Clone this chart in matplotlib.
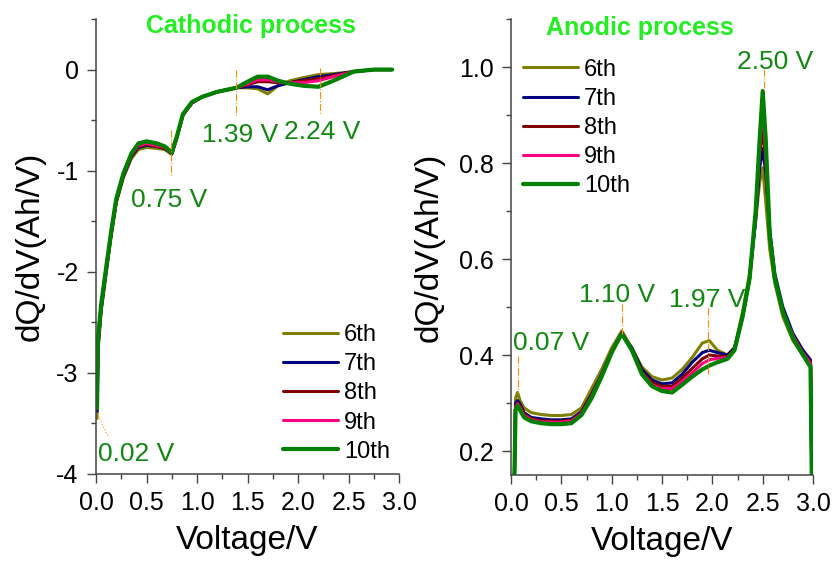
import numpy as np
import matplotlib
matplotlib.use("Agg")
import matplotlib.pyplot as plt
from matplotlib.ticker import MultipleLocator, FormatStrFormatter

plt.rcParams['font.family'] = ['Liberation Sans', 'DejaVu Sans']
plt.rcParams['axes.unicode_minus'] = False

labels = ['6th', '7th', '8th', '9th', '10th']
colors = ['#808000', '#000080', '#800000', '#ff0080', '#008000']
widths = [2.2, 2.2, 2.2, 2.2, 3.0]

# cathodic process
v_cat = [0.01, 0.02, 0.05, 0.1, 0.15, 0.2, 0.27, 0.35, 0.42, 0.5, 0.6, 0.68, 0.75, 0.8, 0.86,
         0.95, 1.05, 1.2, 1.39, 1.5, 1.6, 1.7, 1.8, 1.92, 2.05, 2.2, 2.35, 2.55, 2.75, 2.93]
cat_6 = [-3.45, -2.78, -2.40, -2.02, -1.65, -1.32, -1.07, -0.88, -0.79, -0.77, -0.78, -0.79, -0.84, -0.68, -0.45,
         -0.33, -0.27, -0.22, -0.18, -0.18, -0.19, -0.24, -0.16, -0.11, -0.08, -0.05, -0.04, -0.02, 0.0, 0.0]
cat_7 = [-3.38, -2.75, -2.38, -2.00, -1.63, -1.31, -1.06, -0.86, -0.77, -0.75, -0.76, -0.78, -0.83, -0.67, -0.45,
         -0.33, -0.27, -0.22, -0.18, -0.17, -0.17, -0.20, -0.16, -0.13, -0.10, -0.07, -0.05, -0.02, 0.0, 0.0]
cat_8 = [-3.35, -2.72, -2.36, -1.98, -1.62, -1.30, -1.05, -0.85, -0.76, -0.74, -0.76, -0.78, -0.83, -0.67, -0.45,
         -0.33, -0.27, -0.22, -0.18, -0.15, -0.12, -0.12, -0.13, -0.13, -0.11, -0.09, -0.06, -0.02, 0.0, 0.0]
cat_9 = [-3.30, -2.70, -2.35, -1.97, -1.61, -1.29, -1.04, -0.84, -0.75, -0.73, -0.75, -0.77, -0.82, -0.67, -0.45,
         -0.33, -0.27, -0.22, -0.18, -0.14, -0.10, -0.10, -0.12, -0.13, -0.13, -0.11, -0.07, -0.02, 0.0, 0.0]
cat_10 = [-3.35, -2.65, -2.33, -1.96, -1.60, -1.28, -1.03, -0.83, -0.73, -0.71, -0.73, -0.76, -0.82, -0.66, -0.44,
          -0.32, -0.27, -0.22, -0.18, -0.12, -0.07, -0.07, -0.11, -0.14, -0.16, -0.17, -0.11, -0.02, 0.0, 0.0]

# anodic process
v_an = [0.03, 0.045, 0.065, 0.09, 0.13, 0.2, 0.3, 0.4, 0.5, 0.6, 0.7, 0.8, 0.9, 1.0, 1.1, 1.2, 1.3, 1.4,
        1.5, 1.6, 1.7, 1.8, 1.9, 1.97, 2.05, 2.15, 2.22, 2.3, 2.37, 2.43, 2.47, 2.5, 2.53, 2.57, 2.62,
        2.7, 2.8, 2.9, 2.975, 2.99]
an_6 = [0.10, 0.31, 0.322, 0.305, 0.29, 0.28, 0.276, 0.274, 0.274, 0.276, 0.29, 0.33, 0.37, 0.415, 0.45, 0.415, 0.375, 0.355,
        0.348, 0.352, 0.37, 0.395, 0.425, 0.43, 0.41, 0.40, 0.415, 0.49, 0.57, 0.68, 0.76, 0.79, 0.72, 0.62, 0.55,
        0.48, 0.43, 0.40, 0.38, 0.10]
an_7 = [0.10, 0.30, 0.305, 0.298, 0.28, 0.27, 0.267, 0.265, 0.265, 0.267, 0.282, 0.318, 0.36, 0.408, 0.443, 0.415, 0.37, 0.348,
        0.34, 0.342, 0.36, 0.385, 0.405, 0.41, 0.405, 0.40, 0.415, 0.48, 0.56, 0.68, 0.79, 0.83, 0.78, 0.66, 0.57,
        0.50, 0.445, 0.41, 0.39, 0.10]
an_8 = [0.10, 0.295, 0.30, 0.293, 0.277, 0.267, 0.263, 0.262, 0.262, 0.264, 0.28, 0.315, 0.358, 0.407, 0.445, 0.412, 0.365, 0.343,
        0.335, 0.335, 0.352, 0.372, 0.392, 0.40, 0.398, 0.397, 0.412, 0.48, 0.56, 0.69, 0.82, 0.87, 0.80, 0.65, 0.56,
        0.49, 0.44, 0.405, 0.385, 0.10]
an_9 = [0.10, 0.29, 0.298, 0.29, 0.274, 0.265, 0.261, 0.26, 0.26, 0.262, 0.278, 0.313, 0.357, 0.408, 0.448, 0.41, 0.362, 0.338,
        0.33, 0.33, 0.345, 0.363, 0.382, 0.39, 0.393, 0.395, 0.41, 0.48, 0.56, 0.69, 0.84, 0.91, 0.82, 0.65, 0.56,
        0.49, 0.44, 0.403, 0.382, 0.10]
an_10 = [0.10, 0.285, 0.295, 0.285, 0.27, 0.262, 0.258, 0.256, 0.256, 0.258, 0.275, 0.31, 0.355, 0.405, 0.445, 0.41, 0.36, 0.335,
         0.325, 0.322, 0.338, 0.355, 0.37, 0.378, 0.385, 0.392, 0.41, 0.48, 0.56, 0.70, 0.85, 0.95, 0.85, 0.65, 0.56,
         0.49, 0.435, 0.40, 0.375, 0.10]

cat_series = [cat_6, cat_7, cat_8, cat_9, cat_10]
an_series = [an_6, an_7, an_8, an_9, an_10]

# peak marks: (text, line x, line y, text x, text y)
cat_marks = [('0.75 V', [0.74, 0.74], [-0.60, -1.06], 0.72, -1.36),
             ('1.39 V', [1.39, 1.39], [0.0, -0.45], 1.43, -0.72),
             ('2.24 V', [2.22, 2.22], [0.02, -0.44], 2.24, -0.69)]
an_marks = [('0.07 V', [0.07, 0.07], [0.397, 0.32], 0.40, 0.41),
            ('1.10 V', [1.10, 1.10], [0.506, 0.444], 1.05, 0.51),
            ('1.97 V', [1.96, 1.96], [0.499, 0.357], 1.95, 0.50),
            ('2.50 V', [2.51, 2.51], [0.996, 0.95], 2.62, 0.996)]

txt_green = '#118811'
mark_orange = '#ff8c00'

fig = plt.figure(figsize=(8.35, 5.68), dpi=100)
ax1 = fig.add_axes([0.115, 0.1655, 0.363, 0.801])
ax2 = fig.add_axes([0.612, 0.1637, 0.3617, 0.8028])

for ax in (ax1, ax2):
    for s in ('top', 'right'):
        ax.spines[s].set_visible(False)
    for s in ('left', 'bottom'):
        ax.spines[s].set_color('#444444')
        ax.spines[s].set_linewidth(1.1)
    ax.tick_params(which='major', length=6.5, width=1.0, color='#444444', labelsize=18, pad=6)
    ax.tick_params(which='minor', length=3.6, width=1.0, color='#444444')
    ax.set_xlim(0, 3.0)
    ax.xaxis.set_major_locator(MultipleLocator(0.5))
    ax.xaxis.set_minor_locator(MultipleLocator(0.25))
    ax.xaxis.set_major_formatter(FormatStrFormatter('%.1f'))
    ax.set_xlabel('Voltage/V', fontsize=24)
    ax.set_ylabel('dQ/dV(Ah/V)', fontsize=24)

for y, lab, c, w in zip(cat_series, labels, colors, widths):
    ax1.plot(v_cat, y, color=c, lw=w, label=lab, solid_capstyle='round')
for y, lab, c, w in zip(an_series, labels, colors, widths):
    ax2.plot(v_an, y, color=c, lw=w, label=lab, solid_capstyle='round')

ax1.set_ylim(-4, 0.5)
ax1.yaxis.set_major_locator(MultipleLocator(1))
ax1.yaxis.set_minor_locator(MultipleLocator(0.5))
ax1.yaxis.set_major_formatter(FormatStrFormatter('%d'))

ax2.set_ylim(0.15, 1.1)
ax2.yaxis.set_major_locator(MultipleLocator(0.2))
ax2.yaxis.set_minor_locator(MultipleLocator(0.1))
ax2.yaxis.set_major_formatter(FormatStrFormatter('%.1f'))

ax1.xaxis.set_label_coords(0.5, -0.112)
ax2.xaxis.set_label_coords(0.5, -0.112)
ax1.yaxis.set_label_coords(-0.166, 0.5)
ax2.yaxis.set_label_coords(-0.22, 0.5)

for ax, marks in ((ax1, cat_marks), (ax2, an_marks)):
    for t, lx, ly, tx, ty in marks:
        ax.plot(lx, ly, color=mark_orange, lw=0.8, ls='-.')
        ax.text(tx, ty, t, color=txt_green, fontsize=19, ha='center', va='baseline')

# 0.02 V mark, slanted dotted leader
ax1.plot([0.01, 0.12], [-3.40, -3.63], color=mark_orange, lw=0.8, ls=':')
ax1.text(0.02, -3.87, '0.02 V', color=txt_green, fontsize=19, ha='left', va='baseline')

ax1.text(0.51, 0.969, 'Cathodic process', transform=ax1.transAxes, color='#22ee22',
         fontsize=18, fontweight='bold', ha='center', va='baseline')
ax2.text(0.427, 0.965, 'Anodic process', transform=ax2.transAxes, color='#22ee22',
         fontsize=18, fontweight='bold', ha='center', va='baseline')

leg_kw = dict(frameon=False, fontsize=17, handlelength=2.33, handletextpad=0.25,
              labelspacing=0.3, borderpad=0, borderaxespad=0)
ax1.legend(loc='lower left', bbox_to_anchor=(0.617, 0.025), **leg_kw)
ax2.legend(loc='upper left', bbox_to_anchor=(0.04, 0.913), **leg_kw)

fig.savefig('out.png', dpi=100)
